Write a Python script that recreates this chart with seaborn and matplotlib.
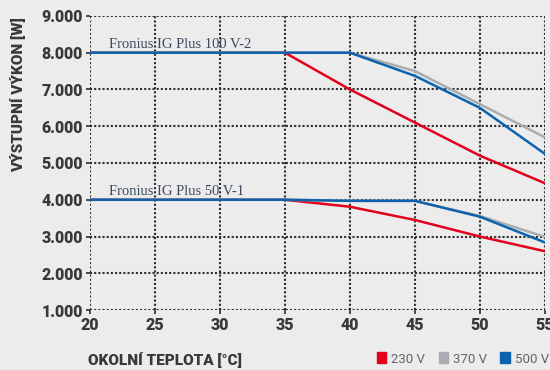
import matplotlib
matplotlib.use("Agg")
import matplotlib.pyplot as plt
import matplotlib.ticker as mticker
import pandas as pd
import seaborn as sns

# ambient temperature [°C]
temps = [20, 25, 30, 35, 40, 45, 50, 55]

# Fronius IG Plus 100 V-2
p100_230 = [8000, 8000, 8000, 8000, 7000, 6100, 5200, 4450]
p100_370 = [8000, 8000, 8000, 8000, 8000, 7500, 6600, 5700]
p100_500 = [8000, 8000, 8000, 8000, 8000, 7370, 6500, 5250]

# Fronius IG Plus 50 V-1
p50_230 = [4000, 4000, 4000, 4000, 3810, 3450, 3000, 2600]
p50_370 = [4000, 4000, 4000, 4000, 3970, 3970, 3560, 2990]
p50_500 = [4000, 4000, 4000, 4000, 3970, 3970, 3540, 2840]

voltages = ["230 V", "370 V", "500 V"]
colors = ["#e2001a", "#a9adb1", "#0d62ad"]
yticks = [1000, 2000, 3000, 4000, 5000, 6000, 7000, 8000, 9000]

rows = []
for name, series in [("100", [p100_230, p100_370, p100_500]),
                     ("50", [p50_230, p50_370, p50_500])]:
    for v, vals in zip(voltages, series):
        for t, p in zip(temps, vals):
            rows.append({"model": name, "voltage": v, "temp": t, "power": p})
df = pd.DataFrame(rows)

sns.set_theme(style="white")
plt.rcParams["font.family"] = ["Roboto", "DejaVu Sans"]
bg = "#ececec"

fig = plt.figure(figsize=(5.5, 3.7), dpi=100, facecolor=bg)
ax = fig.add_axes([0.1636, 0.162, 0.827, 0.795])
ax.set_facecolor(bg)

for model in ["100", "50"]:
    sub = df[df["model"] == model]
    sns.lineplot(data=sub, x="temp", y="power", hue="voltage",
                 hue_order=voltages, palette=colors, linewidth=1.8,
                 ax=ax, legend=False)

ax.set_xlim(20, 55)
ax.set_ylim(1000, 9000)
ax.set_xticks(temps)
ax.set_yticks(yticks)
ax.yaxis.set_major_formatter(
    mticker.FuncFormatter(lambda v, _: f"{int(v):,}".replace(",", ".")))
ax.grid(True, linestyle=(0, (1, 1.0)), color="#2e2e2e", linewidth=1.5)
ax.set_axisbelow(True)
for s in ax.spines.values():
    s.set_visible(False)
ax.tick_params(axis="both", length=3, width=1.2, color="#2e2e2e",
               labelsize=11.5, labelcolor="#383838", pad=2, left=True, bottom=True)
for lab in ax.get_xticklabels() + ax.get_yticklabels():
    lab.set_fontweight("heavy")
ax.set_xlabel("")
ax.set_ylabel("")

ax.text(21.5, 8130, "Fronius IG Plus 100 V-2", family=["Liberation Serif", "DejaVu Serif"],
        fontsize=10.5, color="#3d4a5c")
ax.text(21.5, 4130, "Fronius IG Plus 50 V-1", family=["Liberation Serif", "DejaVu Serif"],
        fontsize=10.5, color="#3d4a5c")

fig.text(0.16, 0.027, "OKOLNÍ TEPLOTA [°C]", fontsize=11, fontweight="heavy",
         color="#383838", ha="left", va="center")
fig.text(0.033, 0.743, "VÝSTUPNÍ VÝKON [W]", fontsize=11, fontweight="heavy",
         color="#383838", rotation=90, ha="center", va="center")

handles = [plt.Rectangle((0, 0), 1, 1, color=c) for c in colors]
fig.legend(handles, voltages, loc="lower right", bbox_to_anchor=(1.02, -0.02),
           ncol=3, frameon=False, fontsize=9.5, handlelength=0.7,
           handleheight=0.9, handletextpad=0.4, columnspacing=1.0,
           labelcolor="#666666")

fig.savefig("out.png", dpi=100, facecolor=bg)
